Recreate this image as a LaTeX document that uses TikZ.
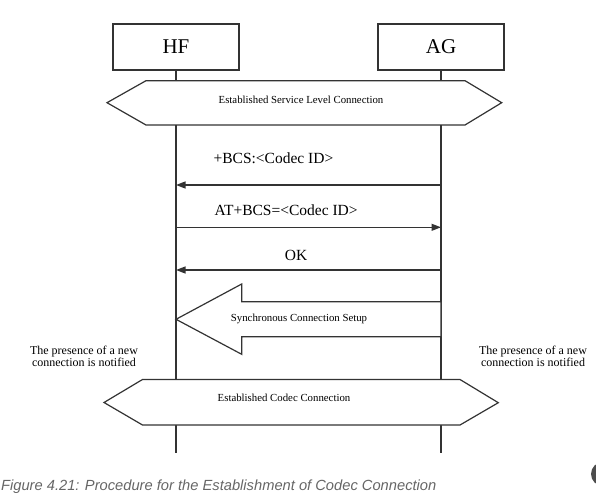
\documentclass[tikz,border=0pt]{standalone}
\usepackage{fontspec}
\setmainfont{Liberation Serif}
\newfontfamily\capfont{Liberation Sans}
\usetikzlibrary{arrows.meta, positioning, calc}

\begin{document}
\begin{tikzpicture}[x=1pt, y=-1pt, line width=1.2pt, draw=black!80,
    actor/.style={draw, minimum width=126pt, minimum height=46pt, inner sep=0pt, font=\fontsize{21}{24}\selectfont},
    msg/.style={-{Triangle[length=9.5pt,width=7pt]}},
    msgtxt/.style={inner sep=0pt, font=\fontsize{15.5}{18}\selectfont},
    smalltxt/.style={inner sep=0pt, font=\fontsize{10.8}{13}\selectfont},
    notetxt/.style={inner sep=0pt, align=center, font=\fontsize{12}{12.7}\selectfont}]

            \useasboundingbox (0,0) rectangle (596,497);

            % Geraete
            \node[actor] (hf) at (176,47) {HF}; % Hands-Free
            \node[actor] (ag) at (441,47) {AG}; % Audio Gateway

            % Lebenslinien
            \draw (hf.south) -- (hf |- 0,453);
            \draw (ag.south) -- (ag |- 0,453);

            % Service Level Connection
            \draw[fill=white] (107,102.7) -- (146,80.7) -- (465,80.7) -- (501.7,102.7) -- (465,125) -- (146,125) -- cycle;
            \node[smalltxt] (slc) at (301,100) {Established Service Level Connection};

            % Nachrichten
            \node[msgtxt, anchor=west] (bcs) at (213,158) {+BCS:<Codec ID>};
            \draw[msg] (ag |- 0,185) -- (hf |- 0,185);
            \node[msgtxt, anchor=west] (atbcs) at (214,210) {AT+BCS=<Codec ID>};
            \draw[msg] (hf |- 0,227.3) -- (ag |- 0,227.3);
            \node[msgtxt] (ok) at (296,255.7) {OK};
            \draw[msg] (ag |- 0,270) -- (hf |- 0,270);

            % Synchronous Connection (Blockpfeil)
            \draw[fill=white] (hf |- 0,319.3) -- (241.7,284) -- (241.7,301.7) -- (ag |- 0,301.7) -- (ag |- 0,336.7) -- (241.7,336.7) -- (241.7,354.3) -- cycle;
            \node[smalltxt] (sync) at (299,319.3) {Synchronous Connection Setup};

            % Hinweise
            \node[notetxt] (hfnote) at (84,356.3) {The presence of a new\\connection is notified};
            \node[notetxt] (agnote) at (533,356.3) {The presence of a new\\connection is notified};

            % Codec Connection
            \draw[fill=white] (104,402.5) -- (142.5,379.5) -- (460,379.5) -- (498.3,402.7) -- (460,425) -- (142.5,425) -- cycle;
            \node[smalltxt] (ccc) at (284,398) {Established Codec Connection};

            % Bildunterschrift
            \node[anchor=west, inner sep=0pt, text=black!60, font=\capfont\itshape\fontsize{14.7}{17}\selectfont] (cap) at (0.5,487) {Figure 4.21: Procedure for the Establishment of Codec Connection};
            \fill[black!70] (603,474) circle (12pt);

\end{tikzpicture}
\end{document}
